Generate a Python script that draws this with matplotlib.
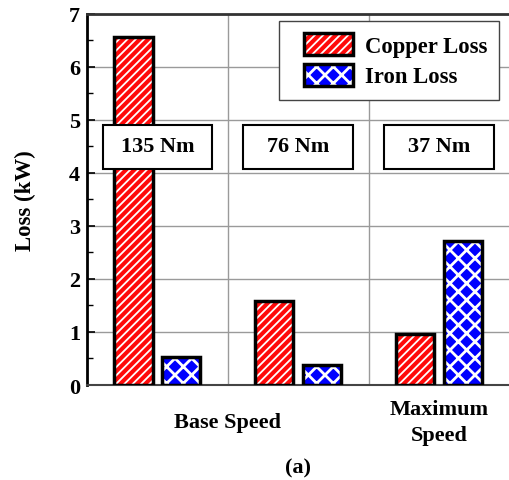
import matplotlib
matplotlib.use("Agg")
import matplotlib.pyplot as plt
from matplotlib.patches import Patch, Rectangle
from matplotlib.legend_handler import HandlerTuple, HandlerPatch

# data
groups = [0.5, 1.5, 2.5]
copper_loss = [6.57, 1.58, 0.97]
iron_loss = [0.53, 0.37, 2.72]
torque_labels = ["135 Nm", "76 Nm", "37 Nm"]
series_names = ["Copper Loss", "Iron Loss"]

plt.rcParams['font.family'] = ['Liberation Serif', 'DejaVu Serif']
plt.rcParams['font.weight'] = 'bold'

fig = plt.figure(figsize=(5.09, 4.81), dpi=100)
ax = fig.add_axes([0.171, 0.1975, 0.83, 0.7715])

bar_w = 0.27
off = 0.17
RED, BLUE = '#ff0a0a', '#0000ff'
CU_HATCH, CU_LW = '////', 1.3
FE_HATCH, FE_LW = 'xx', 2.0


def hatched(x, h, color, hatch, hlw):
    with plt.rc_context({'hatch.linewidth': hlw}):
        bars = ax.bar(x, h, bar_w, color=color, edgecolor='white', linewidth=0,
                      hatch=hatch, zorder=3)
    for b in bars:
        if hasattr(b, 'set_hatch_linewidth'):
            b.set_hatch_linewidth(hlw)
    ax.bar(x, h, bar_w, fill=False, edgecolor='black', linewidth=2.5, zorder=4)


hatched([g - off for g in groups], copper_loss, RED, CU_HATCH, CU_LW)
hatched([g + off for g in groups], iron_loss, BLUE, FE_HATCH, FE_LW)

# torque boxes
for g, lab in zip(groups, torque_labels):
    ax.add_patch(Rectangle((g - 0.39, 4.08), 0.78, 0.83, facecolor='white',
                           edgecolor='black', linewidth=1.5, zorder=5))
    ax.text(g, 4.5, lab, ha='center', va='center', fontsize=16,
            fontweight='bold', zorder=6)

ax.set_xlim(0, 3)
ax.set_ylim(0, 7)
ax.set_yticks(range(0, 8))
ax.set_yticks([i + 0.5 for i in range(7)], minor=True)
ax.set_xticks([1, 2])
ax.set_xticklabels([])
ax.tick_params(axis='x', length=0)
ax.tick_params(axis='y', which='major', direction='in', length=6, width=1.2,
               labelsize=16, pad=5)
ax.tick_params(axis='y', which='minor', direction='in', length=4, width=1)
for t in ax.get_yticklabels():
    t.set_fontweight('bold')
ax.grid(True, color='#9a9a9a', linewidth=1, zorder=0)
ax.set_axisbelow(True)

ax.spines['left'].set_linewidth(2)
ax.spines['top'].set_linewidth(2)
ax.spines['top'].set_color('#333333')
ax.spines['bottom'].set_linewidth(1.5)
ax.spines['bottom'].set_color('#444444')
ax.spines['right'].set_visible(False)

ax.set_ylabel("Loss (kW)", fontsize=16.5, fontweight='bold', labelpad=24)

# category labels below the axis
ax.text(1.0, -0.10, "Base Speed", transform=ax.get_xaxis_transform(),
        ha='center', va='center', fontsize=16, fontweight='bold')
ax.text(2.5, -0.10, "Maximum\nSpeed", transform=ax.get_xaxis_transform(),
        ha='center', va='center', fontsize=16, fontweight='bold',
        linespacing=1.4)
fig.text(298 / 509, 1 - 468 / 481, "(a)", ha='center', va='center',
         fontsize=16, fontweight='bold')


# legend: white hatches with black borders, handle pushed a bit right
def shifted(legend, orig_handle, xdescent, ydescent, width, height, fontsize):
    return Rectangle((-xdescent + 9, -ydescent), width - 9, height)


h1 = Patch(facecolor=RED, edgecolor='white', linewidth=0, hatch=CU_HATCH)
h2 = Patch(facecolor=BLUE, edgecolor='white', linewidth=0, hatch=FE_HATCH)
b1 = Patch(fill=False, edgecolor='black', linewidth=2.5)
b2 = Patch(fill=False, edgecolor='black', linewidth=2.5)
leg = ax.legend([(h1, b1), (h2, b2)], series_names,
                handler_map={tuple: HandlerTuple(ndivide=1, pad=0),
                             Patch: HandlerPatch(patch_func=shifted)},
                loc='upper right', bbox_to_anchor=(0.976, 0.981),
                borderaxespad=0,
                fontsize=16.3, handlelength=2.74, handleheight=1.1,
                labelspacing=0.3, fancybox=False, framealpha=1,
                edgecolor='#444444', borderpad=0.55, handletextpad=0.5)
leg.get_frame().set_linewidth(1)
leg.set_zorder(7)
for p in leg.findobj(Rectangle):
    hatch = p.get_hatch()
    if hatch:
        w = CU_LW if '/' in hatch else FE_LW
        if hasattr(p, 'set_hatch_linewidth'):
            p.set_hatch_linewidth(w)

fig.savefig("out.png", dpi=100)
